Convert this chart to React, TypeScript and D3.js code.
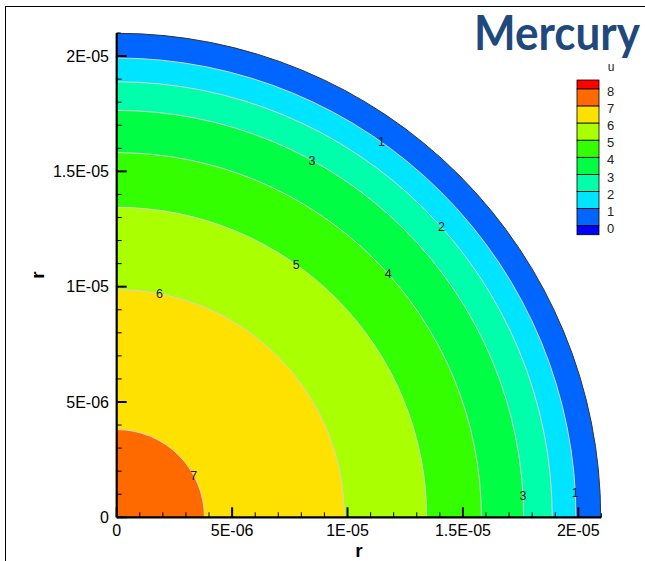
import React from "react";
import * as d3 from "d3";

// ---- data ----
const levels = [1, 2, 3, 4, 5, 6, 7]; // contour levels (u)
const levelRadii = [19.9, 18.87, 17.63, 15.8, 13.43, 9.87, 3.8]; // radius (1e-6) where u = level
const outerRadius = 20.97; // domain boundary (1e-6)
const bandColors = ["#0066FF", "#00E5FF", "#00FFAA", "#00FF44", "#33FF00", "#AAFF00", "#FFE100", "#FF6A00"]; // bands 0-1 ... 7-8
const legendLabels = ["8", "7", "6", "5", "4", "3", "2", "1", "0"];
const legendColors = ["#FF0000", "#FF6A00", "#FFE100", "#AAFF00", "#33FF00", "#00FF44", "#00FFAA", "#00E5FF", "#0066FF", "#0000FF"];
const contourLabels = [
  { level: 1, angle: 54.8 },
  { level: 3, angle: 61.3 },
  { level: 2, angle: 41.8 },
  { level: 5, angle: 54.6 },
  { level: 4, angle: 41.9 },
  { level: 6, angle: 79.2 },
  { level: 7, angle: 28.7 },
  { level: 3, angle: 3.0 },
  { level: 1, angle: 3.05 },
];
const majorTicks = [0, 5e-6, 1e-5, 1.5e-5, 2e-5];
const tickLabels = ["0", "5E-06", "1E-05", "1.5E-05", "2E-05"];
const minorTicks = d3.range(0, 21).map((i) => i * 1e-6).filter((v, i) => i % 5 !== 0);

const W = 645;
const H = 561;

export default function App() {
  const x = d3.scaleLinear().domain([0, 2.1e-5]).range([116.7, 601.4]);
  const y = d3.scaleLinear().domain([0, 2.1e-5]).range([517.3, 33]);
  const rPx = (r: number) => x(r * 1e-6) - x(0);
  const cx = x(0);
  const cy = y(0);

  const sector = (r: number) =>
    d3.arc()({ innerRadius: 0, outerRadius: rPx(r), startAngle: 0, endAngle: Math.PI / 2 }) as string;
  const arcLine = (r: number) => {
    const p = d3.path();
    const R = rPx(r);
    p.moveTo(0, -R);
    p.arc(0, 0, R, -Math.PI / 2, 0);
    return p.toString();
  };

  const discs = [outerRadius, ...levelRadii];

  // legend geometry
  const lgX = 577;
  const lgW = 22;
  const lgTop = 80;
  const half = 9;
  const step = 17.09;
  const legendRects = legendColors.map((c, i) => {
    let y0: number, h: number;
    if (i === 0) { y0 = lgTop; h = half; }
    else if (i === legendColors.length - 1) { y0 = lgTop + half + step * (i - 1); h = half; }
    else { y0 = lgTop + half + step * (i - 1); h = step; }
    return { c, y0, h };
  });

  const font = "Liberation Sans, Arial, sans-serif";

  return (
    <svg width={W} height={H} style={{ position: "absolute", left: 0, top: 0, background: "#fff" }}>
      <rect x={0} y={0} width={W} height={H} fill="#fff" />
      <rect x={5.5} y={6.5} width={800} height={800} fill="none" stroke="#000" strokeWidth={1} />

      {/* filled bands */}
      <g transform={`translate(${cx},${cy})`}>
        {discs.map((r, i) => (
          <path key={"d" + i} d={sector(r)} fill={bandColors[i]} />
        ))}
        {levelRadii.map((r, i) => (
          <path key={"l" + i} d={arcLine(r)} fill="none" stroke="#d4d4d4" strokeWidth={1} />
        ))}
        <path d={arcLine(outerRadius)} fill="none" stroke="#333" strokeWidth={1} />
        {contourLabels.map((l, i) => {
          const r = rPx(levelRadii[levels.indexOf(l.level)]);
          const a = (l.angle * Math.PI) / 180;
          return (
            <text key={"cl" + i} x={r * Math.cos(a)} y={-r * Math.sin(a)} dy="0.35em" textAnchor="middle"
              fontFamily={font} fontSize={12.5} fill="#1a1a1a">
              {l.level}
            </text>
          );
        })}
      </g>

      {/* axes */}
      <g>
        <line x1={x(0)} x2={x(2.1e-5)} y1={cy} y2={cy} stroke="#000" strokeWidth={2.2} />
        <line x1={cx} x2={cx} y1={y(0)} y2={y(2.1e-5)} stroke="#000" strokeWidth={2.2} />
        {majorTicks.map((v, i) => (
          <g key={"mx" + i}>
            <line x1={x(v)} x2={x(v)} y1={cy} y2={cy - 10} stroke="#000" strokeWidth={2} />
            <text x={x(v)} y={536} textAnchor="middle" fontFamily={font} fontSize={16} fill="#000">{tickLabels[i]}</text>
            <line x1={cx} x2={cx + 10} y1={y(v)} y2={y(v)} stroke="#000" strokeWidth={2} />
            <text x={109} y={y(v)} dy="0.36em" textAnchor="end" fontFamily={font} fontSize={16} fill="#000">{tickLabels[i]}</text>
          </g>
        ))}
        {minorTicks.map((v, i) => (
          <g key={"mn" + i}>
            <line x1={x(v)} x2={x(v)} y1={cy} y2={cy - 5} stroke="#000" strokeWidth={1} />
            <line x1={cx} x2={cx + 5} y1={y(v)} y2={y(v)} stroke="#000" strokeWidth={1} />
          </g>
        ))}
        <line x1={x(2.1e-5)} x2={x(2.1e-5)} y1={cy} y2={cy - 4} stroke="#000" strokeWidth={1} />
        <line x1={cx} x2={cx + 4} y1={y(2.1e-5)} y2={y(2.1e-5)} stroke="#000" strokeWidth={1} />
        <text x={(x(0) + x(2.1e-5)) / 2} y={557} textAnchor="middle" fontFamily={font} fontWeight="bold" fontSize={19} fill="#000">r</text>
        <text transform={`translate(44,${(y(0) + y(2.1e-5)) / 2}) rotate(-90)`} textAnchor="middle" fontFamily={font} fontWeight="bold" fontSize={19} fill="#000">r</text>
      </g>

      {/* legend */}
      <g>
        <text x={611} y={67} dy="0.35em" textAnchor="middle" fontFamily={font} fontSize={12} fill="#222">u</text>
        {legendRects.map((r, i) => (
          <rect key={"lr" + i} x={lgX} y={r.y0} width={lgW} height={r.h} fill={r.c} stroke="#000" strokeWidth={0.8} />
        ))}
        {legendLabels.map((t, i) => (
          <text key={"ll" + i} x={607} y={lgTop + half + step * i + 2.5} dy="0.35em" fontFamily={font} fontSize={13} fill="#222">{t}</text>
        ))}
      </g>

      {/* title */}
      <text x={474} y={50} textLength={166} lengthAdjust="spacingAndGlyphs" fontFamily="Lato, 'Open Sans', sans-serif"
        fontWeight="bold" fontSize={48} fill="#1F497D">Mercury</text>
    </svg>
  );
}
